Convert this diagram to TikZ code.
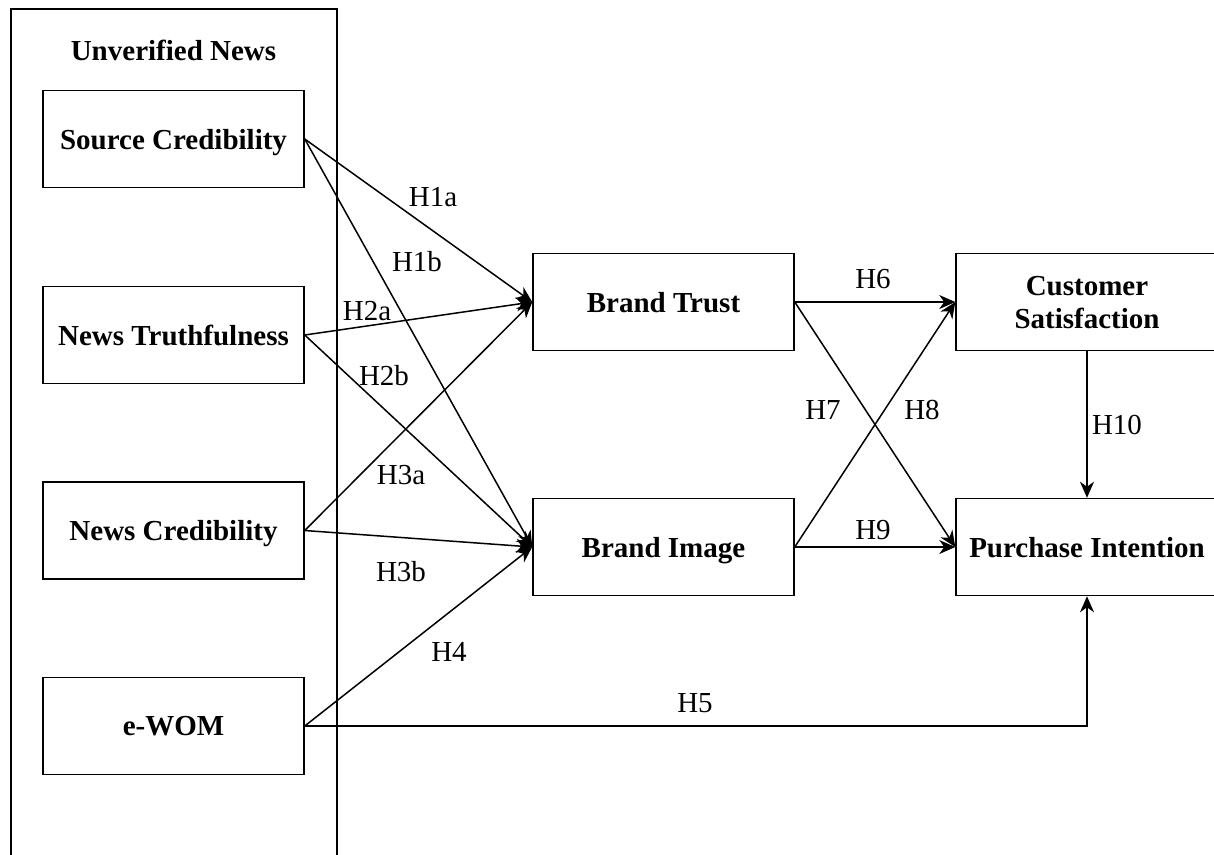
\documentclass[tikz,border=0pt]{standalone}
\usepackage{fontspec}
\setmainfont{Liberation Serif}
\usetikzlibrary{arrows.meta}
\begin{document}
\begin{tikzpicture}[x=1pt,y=-1pt,
  box/.style={draw,line width=1.5pt,minimum width=261pt,minimum height=97pt,inner sep=0pt,
    text depth=0pt,font=\fontsize{29}{33}\selectfont\bfseries,align=center},
  lbl/.style={font=\fontsize{29}{33}\selectfont,inner sep=0pt},
  conn/.style={line width=1.5pt,-{Stealth[length=16pt,width=14pt,inset=5pt]}}]
\path[use as bounding box] (0,0) rectangle (1214,854);
\draw[line width=1.5pt] (11,870) -- (11,9) -- (337,9) -- (337,870);
\node[lbl,font=\fontsize{29}{33}\selectfont\bfseries] (title) at (173.5,50) {Unverified News};
\node[box] (sc) at (173.5,139) {Source Credibility};
\node[box] (nt) at (173.5,335) {News Truthfulness};
\node[box] (nc) at (173.5,530.5) {News Credibility};
\node[box] (ew) at (173.5,726) {e-WOM};
\node[box] (bt) at (663.5,302) {Brand Trust};
\node[box] (bi) at (663.5,547) {Brand Image};
\node[box,minimum width=262pt] (cs) at (1087,302) {Customer\\Satisfaction};
\node[box,minimum width=262pt] (pi) at (1087,547) {Purchase Intention};
\draw[conn] (sc.east) -- (bt.west);
\draw[conn] (sc.east) -- (bi.west);
\draw[conn] (nt.east) -- (bt.west);
\draw[conn] (nt.east) -- (bi.west);
\draw[conn] (nc.east) -- (bt.west);
\draw[conn] (nc.east) -- (bi.west);
\draw[conn] (ew.east) -- (bi.west);
\draw[conn] (ew.east) -| (pi.south);
\draw[conn] (bt.east) -- (cs.west);
\draw[conn] (bt.east) -- (pi.west);
\draw[conn] (bi.east) -- (cs.west);
\draw[conn] (bi.east) -- (pi.west);
\draw[conn] (cs.south) -- (pi.north);
\node[lbl] (h1a) at (433,197) {H1a};
\node[lbl] (h1b) at (417,262) {H1b};
\node[lbl] (h2a) at (367,311) {H2a};
\node[lbl] (h2b) at (384,376) {H2b};
\node[lbl] (h3a) at (401,475) {H3a};
\node[lbl] (h3b) at (401,572) {H3b};
\node[lbl] (h4) at (449,652) {H4};
\node[lbl] (h5) at (695,703) {H5};
\node[lbl] (h6) at (873,279) {H6};
\node[lbl] (h7) at (823,410) {H7};
\node[lbl] (h8) at (922,410) {H8};
\node[lbl] (h9) at (873,530) {H9};
\node[lbl] (h10) at (1117,425) {H10};
\end{tikzpicture}
\end{document}
